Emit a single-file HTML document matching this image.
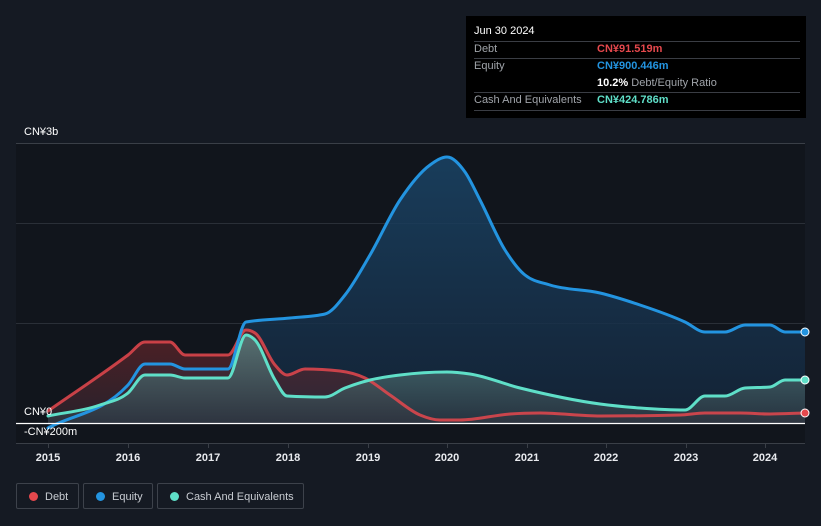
<!DOCTYPE html>
<html><head><meta charset="utf-8"><style>
body{margin:0;background:#151a23;font-family:"Liberation Sans",sans-serif;}
#w{position:relative;width:821px;height:526px;overflow:hidden;}
svg{position:absolute;left:0;top:0}
.tt{position:absolute;left:466px;top:16px;width:340px;height:102px;background:#000;color:#fff;font-size:11px}
.tt .r{position:absolute;left:8px;right:6px;border-top:1px solid #3a3d44}
.tt span{position:absolute}
.lg{position:absolute;top:483px;height:26px;border:1px solid #3d424b;border-radius:2px;color:#c8ccd2;font-size:11px;line-height:26px;box-sizing:border-box}
.lg i{position:absolute;left:12px;top:8px;width:9px;height:9px;border-radius:50%}
</style></head><body><div id="w">
<svg width="821" height="526" viewBox="0 0 821 526">
<defs>
<linearGradient id="gb" x1="0" y1="0" x2="0" y2="1"><stop offset="0" stop-color="#1a4466" stop-opacity=".85"/><stop offset="1" stop-color="#14253a" stop-opacity=".8"/></linearGradient>
<linearGradient id="gr" x1="0" y1="0" x2="0" y2="1"><stop offset="0" stop-color="#6b2428" stop-opacity=".7"/><stop offset="1" stop-color="#3a2a35" stop-opacity=".6"/></linearGradient>
<linearGradient id="gc" x1="0" y1="0" x2="0" y2="1"><stop offset="0" stop-color="#5a8a88" stop-opacity=".75"/><stop offset="1" stop-color="#2f3a44" stop-opacity=".7"/></linearGradient>
</defs>
<rect x="16" y="143" width="789" height="300" fill="#11151c"/>
<line x1="16" y1="143.5" x2="805" y2="143.5" stroke="#3a3f47"/>
<line x1="16" y1="223.5" x2="805" y2="223.5" stroke="#2a2f37"/>
<line x1="16" y1="323.5" x2="805" y2="323.5" stroke="#2a2f37"/>
<line x1="16" y1="443.5" x2="805" y2="443.5" stroke="#3a3f47"/>
<g stroke="#3a3f47"><line x1="48.5" y1="443" x2="48.5" y2="448"/><line x1="128.5" y1="443" x2="128.5" y2="448"/><line x1="208.5" y1="443" x2="208.5" y2="448"/><line x1="288.5" y1="443" x2="288.5" y2="448"/><line x1="368.5" y1="443" x2="368.5" y2="448"/><line x1="447.5" y1="443" x2="447.5" y2="448"/><line x1="527.5" y1="443" x2="527.5" y2="448"/><line x1="606.5" y1="443" x2="606.5" y2="448"/><line x1="686.5" y1="443" x2="686.5" y2="448"/><line x1="765.5" y1="443" x2="765.5" y2="448"/></g>
<path id="fb" fill="url(#gb)"/>
<path id="fr" fill="url(#gr)"/>
<path id="fc" fill="url(#gc)"/>
<g fill="none" stroke-width="3" stroke-linejoin="round" stroke-linecap="round">
<path id="lr" stroke="#e5484d" opacity=".85"/>
<path id="lb" stroke="#2394e0"/>
<path id="lc" stroke="#5fdfc8"/>
</g>
<line x1="16" y1="423.5" x2="805" y2="423.5" stroke="#fff" stroke-width="1.2"/>
<circle cx="805" cy="332" r="4" fill="#2394e0" stroke="#fff"/>
<circle cx="805" cy="380" r="4" fill="#5fdfc8" stroke="#fff"/>
<circle cx="805" cy="413" r="4" fill="#e5484d" stroke="#fff"/>
<g fill="#fff" font-size="11" font-family="Liberation Sans,sans-serif">
<text x="24" y="135">CN¥3b</text><text x="24" y="415">CN¥0</text><text x="24" y="435">-CN¥200m</text>
<g text-anchor="middle" font-weight="bold" fill="#e8eaee"><text x="48" y="461">2015</text><text x="128" y="461">2016</text><text x="208" y="461">2017</text><text x="288" y="461">2018</text><text x="368" y="461">2019</text><text x="447" y="461">2020</text><text x="527" y="461">2021</text><text x="606" y="461">2022</text><text x="686" y="461">2023</text><text x="765" y="461">2024</text></g>
</g>
</svg>
<div class="tt">
<span style="left:8px;top:9px">Jun 30 2024</span>
<div class="r" style="top:25px"></div>
<span style="left:8px;top:27px;color:#a0a4aa">Debt</span><span style="left:131px;top:27px;color:#e5484d;font-weight:bold">CN¥91.519m</span>
<div class="r" style="top:42px"></div>
<span style="left:8px;top:44px;color:#a0a4aa">Equity</span><span style="left:131px;top:44px;color:#2394e0;font-weight:bold">CN¥900.446m</span>
<span style="left:131px;top:61px;color:#a0a4aa"><b style="color:#fff">10.2%</b> Debt/Equity Ratio</span>
<div class="r" style="top:76px"></div>
<span style="left:8px;top:78px;color:#a0a4aa">Cash And Equivalents</span><span style="left:131px;top:78px;color:#5fdfc8;font-weight:bold">CN¥424.786m</span>
<div class="r" style="top:94px"></div>
</div>
<div class="lg" style="left:16px;width:63px"><i style="background:#e5484d"></i><span style="position:absolute;left:28px">Debt</span></div>
<div class="lg" style="left:83px;width:70px"><i style="background:#2394e0"></i><span style="position:absolute;left:28px">Equity</span></div>
<div class="lg" style="left:157px;width:147px"><i style="background:#5fdfc8"></i><span style="position:absolute;left:28px">Cash And Equivalents</span></div>
</div>
<script>
function sg(v){return v<0?-1:(v>0?1:0);}
function sp(p){var n=p.length,s=[],m=[];
for(var i=0;i<n-1;i++)s.push((p[i+1][1]-p[i][1])/(p[i+1][0]-p[i][0]));
m[0]=s[0];m[n-1]=s[n-2];
for(i=1;i<n-1;i++){var h0=p[i][0]-p[i-1][0],h1=p[i+1][0]-p[i][0],s0=s[i-1],s1=s[i],q=(s0*h1+s1*h0)/(h0+h1);
m[i]=(sg(s0)+sg(s1))*Math.min(Math.abs(s0),Math.abs(s1),0.5*Math.abs(q))||0;}
var d="M"+p[0][0]+","+p[0][1];
for(i=0;i<n-1;i++){var dx=(p[i+1][0]-p[i][0])/3;
d+=" C"+(p[i][0]+dx).toFixed(1)+","+(p[i][1]+dx*m[i]).toFixed(1)+" "+(p[i+1][0]-dx).toFixed(1)+","+(p[i+1][1]-dx*m[i+1]).toFixed(1)+" "+p[i+1][0]+","+p[i+1][1];}
return d;}
function P(s){return s.trim().split(/\s+/).map(function(q){return q.split(",").map(Number)});}
var B=P("48,428 128,385 145,364 170,364 185,369 228,369 246,322 290,318 325,314 345,295 370,255 400,200 430,165 447,157 465,172 480,200 505,250 525,275 550,285 600,293 640,305 685,322 705,332 725,332 745,325 770,325 785,332 805,332");
var R=P("48,411 128,355 145,342 170,342 185,355 228,355 246,330 255,333 275,365 287,375 305,369 340,371 365,378 390,395 420,415 440,420 460,420 510,414 540,413 600,416 680,415 705,413 740,413 770,414 805,413");
var C=P("48,416 100,405 128,393 145,375 170,375 185,378 228,378 246,335 255,340 275,380 287,396 325,397 345,388 370,380 400,375 447,372 470,374 520,388 600,404 640,408 685,410 705,396 725,396 745,388 770,387 785,380 805,380");
[["b",B],["r",R],["c",C]].forEach(function(s){var d=sp(s[1]);document.getElementById("l"+s[0]).setAttribute("d",d);document.getElementById("f"+s[0]).setAttribute("d",d+" L805,423 L48,423 Z");});
</script>
</body></html>
